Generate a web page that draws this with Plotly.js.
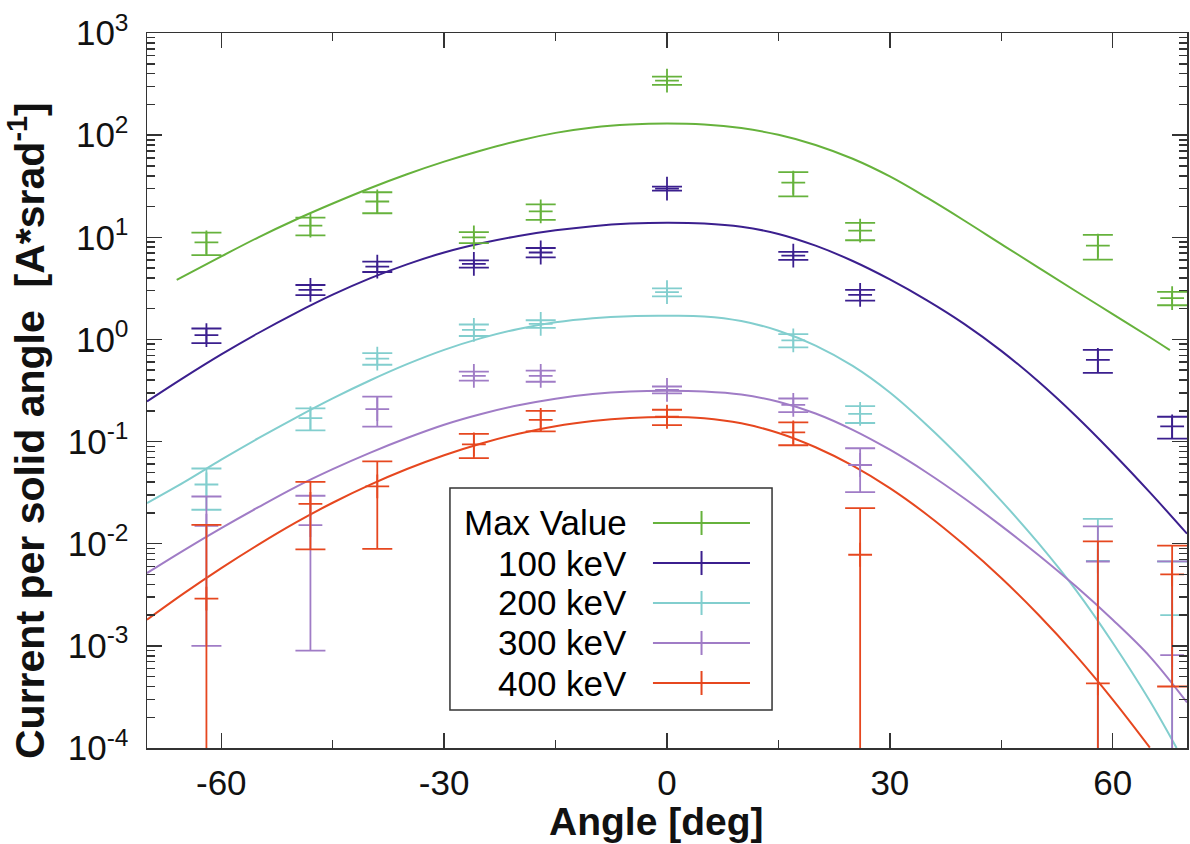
<!DOCTYPE html>
<html>
<head>
<meta charset="utf-8">
<script src="https://cdn.plot.ly/plotly-3.0.1.min.js"></script>
<style>html,body{margin:0;padding:0;background:#fff;}#chart{width:1190px;height:844px;}</style>
</head>
<body>
<div id="chart"></div>
<script>
// ---------- measured data points ----------
const angles = [-62, -48, -39, -26, -17, 0, 17, 26, 58, 68];

const maxValue = [8.9, 13.0, 22.4, 10.0, 17.9, 342, 34.3, 11.6, 8.3, 2.54];
const maxErr   = [2.2, 2.55, 5.2, 1.25, 3.1, 32, 9.2, 2.25, 2.25, 0.38];

const kev100    = [1.1, 3.06, 5.17, 5.5, 7.1, 30.0, 6.6, 2.73, 0.63, 0.141];
const kev100Err = [0.18, 0.35, 0.6, 0.45, 0.75, 1.4, 0.6, 0.33, 0.16, 0.034];

const kev200    = [0.038, 0.17, 0.65, 1.24, 1.42, 2.9, 0.98, 0.187, 0.0068, 0.0020];
const kev200Err = [0.0165, 0.041, 0.085, 0.16, 0.12, 0.26, 0.145, 0.035, 0.0107, 0.0047];

const kev300    = [0.015, 0.0152, 0.208, 0.44, 0.44, 0.321, 0.229, 0.059, 0.0067, 0.00081];
const kev300Err = [0.014, 0.0143, 0.068, 0.045, 0.055, 0.025, 0.035, 0.027, 0.0081, 0.0059];

const kev400    = [0.0029, 0.0246, 0.0364, 0.094, 0.163, 0.175, 0.123, 0.0078, 0.00043, 0.0050];
const kev400Err = [0.0124, 0.0158, 0.0275, 0.025, 0.037, 0.03, 0.031, 0.0145, 0.0101, 0.0046];

// ---------- fitted curves ----------
const fitMaxX = [-66, -60, -55, -50, -45, -40, -35, -30, -25, -20, -15, -10, -5, 0, 5, 10, 15, 20, 25, 30, 35, 40, 45, 50, 55, 60, 65, 67.7];
const fitMaxY = [3.83, 6.50, 10.0, 14.86, 21.4, 30.2, 41.4, 55.0, 70.8, 88.3, 105.2, 118.9, 127.1, 130.0, 127.1, 117.2, 100.9, 80.2, 58.7, 39.4, 24.4, 14.6, 8.57, 5.05, 2.98, 1.77, 1.05, 0.785];

const fit100X = [-70, -65, -60, -55, -50, -45, -40, -35, -30, -25, -20, -15, -10, -5, 0, 5, 10, 15, 20, 25, 30, 35, 40, 45, 50, 55, 60, 65, 70];
const fit100Y = [0.247, 0.425, 0.713, 1.156, 1.811, 2.742, 3.963, 5.433, 7.096, 8.73, 10.30, 11.72, 12.85, 13.61, 13.90, 13.65, 12.68, 10.79, 8.28, 5.86, 3.87, 2.415, 1.422, 0.773, 0.387, 0.179, 0.0773, 0.0318, 0.01253];

const fit200X = [-70, -65, -60, -55, -50, -45, -40, -35, -30, -25, -20, -15, -10, -5, 0, 5, 10, 15, 20, 25, 30, 35, 40, 45, 50, 55, 60, 65, 68.6];
const fit200Y = [0.0250, 0.0401, 0.0665, 0.1079, 0.1710, 0.2649, 0.3963, 0.5728, 0.7907, 1.030, 1.268, 1.472, 1.614, 1.690, 1.702, 1.679, 1.514, 1.216, 0.871, 0.550, 0.302, 0.1445, 0.0638, 0.0263, 0.01012, 0.003548, 0.001072, 0.000288, 0.0001];

const fit300X = [-70, -65, -60, -55, -50, -45, -40, -35, -30, -25, -20, -15, -10, -5, 0, 5, 10, 15, 20, 25, 30, 35, 40, 45, 50, 55, 60, 65, 70];
const fit300Y = [0.005164, 0.00867, 0.01422, 0.0228, 0.03589, 0.0537, 0.07762, 0.1084, 0.1462, 0.1862, 0.2265, 0.2630, 0.2917, 0.3090, 0.3141, 0.3090, 0.2884, 0.2455, 0.1884, 0.1303, 0.0832, 0.04955, 0.02786, 0.01496, 0.00776, 0.003846, 0.001799, 0.000785, 0.000279];

const fit400X = [-70, -65, -60, -55, -50, -45, -40, -35, -30, -25, -20, -15, -10, -5, 0, 5, 10, 15, 20, 25, 30, 35, 40, 45, 50, 55, 60, 65];
const fit400Y = [0.001803, 0.003281, 0.005768, 0.009795, 0.01607, 0.02518, 0.03767, 0.05383, 0.07345, 0.09572, 0.1191, 0.1416, 0.1589, 0.1702, 0.1742, 0.1694, 0.1510, 0.1213, 0.0879, 0.05808, 0.03499, 0.01923, 0.00975, 0.004613, 0.002014, 0.000811, 0.000298, 0.0001009];

const seriesNames = ['Max Value', '100 keV', '200 keV', '300 keV', '400 keV'];
const seriesColors = ['#66b23c', '#3b1f8e', '#82cece', '#a07cc6', '#e6471f'];

const xTickVals = [-60, -30, 0, 30, 60];
const xTickText = ['-60', '-30', '0', '30', '60'];
const xMinorVals = [-45, -15, 15, 45];
const yTickExp = [-4, -3, -2, -1, 0, 1, 2, 3];

// ---------- build traces ----------
const pts = [
  [maxValue, maxErr], [kev100, kev100Err], [kev200, kev200Err], [kev300, kev300Err], [kev400, kev400Err]
];
const fits = [[fitMaxX, fitMaxY], [fit100X, fit100Y], [fit200X, fit200Y], [fit300X, fit300Y], [fit400X, fit400Y]];

const traces = [];
for (let i = 0; i < 5; i++) {
  traces.push({
    type: 'scatter', mode: 'lines', name: seriesNames[i] + ' fit', showlegend: false,
    x: fits[i][0], y: fits[i][1],
    line: {color: seriesColors[i], width: 2, shape: 'spline', smoothing: 1},
    hoverinfo: 'skip'
  });
}
for (let i = 0; i < 5; i++) {
  traces.push({
    type: 'scatter', mode: 'markers', name: seriesNames[i], showlegend: false,
    x: angles, y: pts[i][0],
    marker: {symbol: 'cross-thin', size: 17, color: seriesColors[i], line: {color: seriesColors[i], width: 1.8}},
    error_y: {type: 'data', array: pts[i][1], visible: true, color: seriesColors[i], thickness: 1.8, width: 15}
  });
}

// ---------- axes ----------
const yTickVals = yTickExp.map(e => Math.pow(10, e));
const yTickText = yTickExp.map(e => '10<sup>' + e + '</sup>');
const yMinor = [];
for (let e = -4; e < 3; e++) for (let m = 2; m <= 9; m++) yMinor.push(m * Math.pow(10, e));

const FONT = 'Liberation Sans, Arial, Helvetica, sans-serif';
const axisCol = '#333333';

// ---------- hand-made legend (text left, sample right, as in the reference) ----------
const L = {x0: 0.2913, x1: 0.601, y0: 0.0531, y1: 0.3636, textX: 0.4635, lineX0: 0.4865, lineX1: 0.5798, markX: 0.5332, markH: 0.0168};
const rowY = [0.3147, 0.2587, 0.2028, 0.1469, 0.0909];

const shapes = [{type: 'rect', xref: 'paper', yref: 'paper', x0: L.x0, x1: L.x1, y0: L.y0, y1: L.y1,
  line: {color: axisCol, width: 1.5}, fillcolor: 'rgba(255,255,255,1)', layer: 'above'}];
const annotations = [];
for (let i = 0; i < 5; i++) {
  shapes.push({type: 'line', xref: 'paper', yref: 'paper', x0: L.lineX0, x1: L.lineX1, y0: rowY[i], y1: rowY[i],
    line: {color: seriesColors[i], width: 2}, layer: 'above'});
  shapes.push({type: 'line', xref: 'paper', yref: 'paper', x0: L.markX, x1: L.markX, y0: rowY[i] - L.markH, y1: rowY[i] + L.markH,
    line: {color: seriesColors[i], width: 2}, layer: 'above'});
  annotations.push({xref: 'paper', yref: 'paper', x: L.textX, y: rowY[i], xanchor: 'right', yanchor: 'middle',
    text: seriesNames[i], showarrow: false, font: {family: FONT, size: 35, color: '#000'}});
}
// axis titles
annotations.push({xref: 'paper', yref: 'paper', x: 0.489, y: -0.1343, xanchor: 'center', yanchor: 'bottom',
  text: '<b>Angle [deg]</b>', showarrow: false, font: {family: FONT, size: 39, color: '#111'}, borderpad: 0});
annotations.push({xref: 'paper', yref: 'paper', x: -0.1413, y: 0.4434, xanchor: 'left', yanchor: 'middle', textangle: -90,
  text: '<b>Current per solid angle &nbsp;[A*srad<sup>-1</sup>]</b>', showarrow: false, font: {family: FONT, size: 41, color: '#111'}, borderpad: 0});

const layout = {
  width: 1190, height: 844,
  margin: {l: 147, r: 3, t: 33, b: 96},
  paper_bgcolor: '#fff', plot_bgcolor: '#fff',
  showlegend: false,
  font: {family: FONT, color: '#111'},
  xaxis: {
    range: [-70, 70], tickmode: 'array', tickvals: xTickVals, ticktext: xTickText,
    ticks: 'inside', ticklen: 15, tickwidth: 1.5, tickcolor: axisCol,
    minor: {tickmode: 'array', tickvals: xMinorVals, ticks: 'inside', ticklen: 8, tickwidth: 1.5, tickcolor: axisCol},
    showline: true, linecolor: axisCol, linewidth: 1.5, mirror: 'allticks',
    showgrid: false, zeroline: false,
    tickfont: {family: FONT, size: 35, color: '#111'}, ticklabelstandoff: 3
  },
  yaxis: {
    type: 'log', range: [-4, 3], tickmode: 'array', tickvals: yTickVals, ticktext: yTickText,
    ticks: 'inside', ticklen: 15, tickwidth: 1.5, tickcolor: axisCol,
    minor: {tickmode: 'array', tickvals: yMinor, ticks: 'inside', ticklen: 8, tickwidth: 1.5, tickcolor: axisCol},
    showline: true, linecolor: axisCol, linewidth: 1.5, mirror: 'allticks',
    showgrid: false, zeroline: false,
    tickfont: {family: FONT, size: 35, color: '#111'}, ticklabelstandoff: 10
  },
  shapes: shapes,
  annotations: annotations
};

Plotly.newPlot('chart', traces, layout, {displayModeBar: false, staticPlot: true});
</script>
</body>
</html>
